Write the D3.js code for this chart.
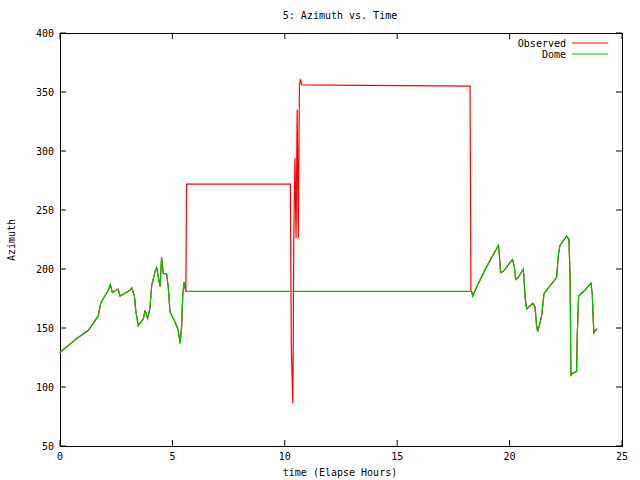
<!DOCTYPE html>
<html><head><meta charset="utf-8">
<script src="https://cdn.jsdelivr.net/npm/d3@7"></script>
<style>body{margin:0;background:#fff}svg{display:block}text{font-family:"DejaVu Sans Mono",monospace;font-size:10px}</style>
</head><body><svg id="c" width="640" height="480"></svg>
<script>
const xTicks=[0,5,10,15,20,25];
const yTicks=[50,100,150,200,250,300,350,400];
const seriesNames=["Observed","Dome"];
const domeStartH=[0.0,0.04,0.67,1.26,1.70,1.81,2.15,2.24,2.33,2.59,2.67,3.11,3.19,3.31,3.37,3.48,3.71,3.78,3.90,4.0,4.08,4.23,4.30,4.45,4.52,4.60,4.74,4.82,4.89,5.12,5.26,5.34,5.41,5.46,5.52,5.59];
const domeStartA=[129,130,140,148,160,171,182,187,180,183,177,182,184,177,165,152,158,165,158,167,186,198,201,185,210,196,196,184,164,155,148,137,151,178,189,181];
const domeEndH=[18.31,18.36,18.54,18.98,19.5,19.54,19.60,19.72,20.09,20.13,20.21,20.27,20.39,20.61,20.70,20.76,21.03,21.13,21.2,21.25,21.35,21.43,21.53,21.68,21.94,22.09,22.17,22.24,22.54,22.64,22.69,22.73,22.83,22.98,23.01,23.07,23.35,23.62,23.68,23.72,23.75,23.87,23.9];
const domeEndA=[181,177,185,202,220,213,197,198,207,208,202,191,193,200,174,166,171,168,152,147,154,161,179,183,189,193,212,220,228,225,193,110,112,113,144,177,182,188,178,157,146,149,149];
const obsMidH=[5.6,5.63,10.25,10.26,10.29,10.36,10.40,10.45,10.50,10.55,10.60,10.65,10.70,10.75,18.24,18.28];
const obsMidA=[181,272,272,226,133,86,226,294,226,335,226,356,361,356,355,181];

const domeH=[...domeStartH,5.6,...domeEndH], domeA=[...domeStartA,181,...domeEndA];
const obsH=[...domeStartH,...obsMidH,...domeEndH], obsA=[...domeStartA,...obsMidA,...domeEndA];

const svg=d3.select("#c");
const L=60,R=622,T=33,B=446;
const x=d3.scaleLinear().domain([0,25]).range([L,R]);
const y=d3.scaleLinear().domain([50,400]).range([B,T]);
const g=svg.append("g");
g.append("rect").attr("x",L).attr("y",T).attr("width",R-L).attr("height",B-T).attr("fill","none").attr("stroke","#000").attr("shape-rendering","crispEdges");
xTicks.forEach(t=>{
  g.append("line").attr("x1",x(t)).attr("x2",x(t)).attr("y1",B).attr("y2",B-6).attr("stroke","#000");
  g.append("line").attr("x1",x(t)).attr("x2",x(t)).attr("y1",T).attr("y2",T+6).attr("stroke","#000");
  g.append("text").attr("x",x(t)).attr("y",B+14).attr("text-anchor","middle").text(t);
});
yTicks.forEach(t=>{
  g.append("line").attr("x1",L).attr("x2",L+6).attr("y1",y(t)).attr("y2",y(t)).attr("stroke","#000");
  g.append("line").attr("x1",R).attr("x2",R-6).attr("y1",y(t)).attr("y2",y(t)).attr("stroke","#000");
  g.append("text").attr("x",L-6).attr("y",y(t)+4).attr("text-anchor","end").text(t);
});
const line=d3.line().x(d=>x(d[0])).y(d=>y(d[1]));
g.append("path").datum(obsH.map((h,i)=>[h,obsA[i]])).attr("d",line).attr("fill","none").attr("stroke","#ff0000").attr("stroke-width",1.2);
g.append("path").datum(domeH.map((h,i)=>[h,domeA[i]])).attr("d",line).attr("fill","none").attr("stroke","#00c000").attr("stroke-width",1.2);
[["#ff0000",43],["#00c000",54]].forEach((c,i)=>{
  g.append("text").attr("x",566).attr("y",c[1]+4).attr("text-anchor","end").text(seriesNames[i]);
  g.append("line").attr("x1",572).attr("x2",608).attr("y1",c[1]).attr("y2",c[1]).attr("stroke",c[0]);
});
svg.append("text").attr("x",340).attr("y",19).attr("text-anchor","middle").text("5: Azimuth vs. Time");
svg.append("text").attr("x",340).attr("y",476).attr("text-anchor","middle").text("time (Elapse Hours)");
svg.append("text").attr("transform","translate(15,240) rotate(-90)").attr("text-anchor","middle").text("Azimuth");
</script></body></html>
